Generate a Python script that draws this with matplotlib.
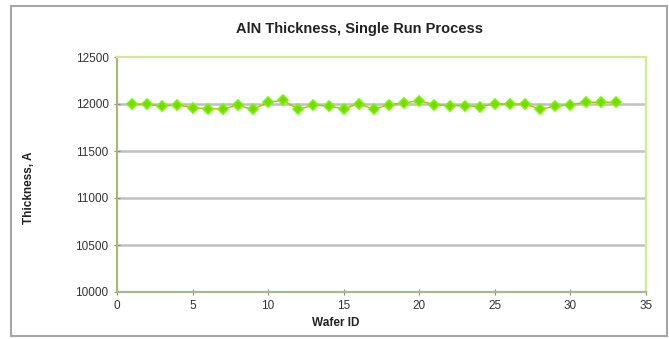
import matplotlib
matplotlib.use("Agg")
import matplotlib.pyplot as plt
from matplotlib.patches import Rectangle

# wafer thickness, single run
wafer_id = list(range(1, 34))
thickness = [
    12000, 11995, 11978, 11988, 11962, 11948, 11950, 11985, 11942, 12018,
    12040, 11942, 11988, 11978, 11950, 12000, 11945, 11993, 12010, 12035,
    11993, 11982, 11982, 11972, 12000, 12000, 12000, 11945, 11975, 11993,
    12018, 12018, 12018,
]
x_ticks = [0, 5, 10, 15, 20, 25, 30, 35]
y_ticks = [10000, 10500, 11000, 11500, 12000, 12500]

plt.rcParams["font.family"] = ["Liberation Sans", "DejaVu Sans"]

W, H = 669, 339
fig = plt.figure(figsize=(W / 100, H / 100), dpi=100)

# outer chart frame
fig.patches.append(Rectangle((11 / W, 1 - 336 / H), (667 - 11) / W, (336 - 6) / H,
                             transform=fig.transFigure, fill=False,
                             edgecolor="#a6a6a6", linewidth=1.5))

ax = fig.add_axes([117 / W, 1 - 292 / H, (646 - 117) / W, (292 - 57) / H])

ax.plot(wafer_id, thickness, color="#c8b400", linewidth=1.0, zorder=3)
ax.plot(wafer_id, thickness, linestyle="none", marker="D", markersize=5.5,
        markerfacecolor="#8ccf00", markeredgecolor="#66ff00",
        markeredgewidth=1.2, zorder=4)

ax.set_xlim(0, 35)
ax.set_ylim(10000, 12500)
ax.set_xticks(x_ticks)
ax.set_yticks(y_ticks)
ax.tick_params(axis="both", labelsize=8.5, labelcolor="#333333", color="#888888",
               direction="inout", length=4, width=0.8, pad=4)

for y in y_ticks[1:-1]:
    ax.axhline(y, color="#c0c0c0", linewidth=1.8, zorder=1)

ax.spines["left"].set_color("#a8b878")
ax.spines["bottom"].set_color("#a8b890")
ax.spines["top"].set_color("#cdee90")
ax.spines["right"].set_color("#cdee90")
for s in ax.spines.values():
    s.set_linewidth(1.6)

fig.text(359 / W, 1 - 29 / H, "AlN Thickness, Single Run Process",
         ha="center", va="center", fontsize=10.5, fontweight="bold", color="#222222")
fig.text(336 / W, 1 - 323 / H, "Wafer ID", ha="center", va="center",
         fontsize=8.5, fontweight="bold", color="#222222")
fig.text(29 / W, 1 - 188 / H, "Thickness, A", ha="center", va="center",
         rotation=90, fontsize=8.5, fontweight="bold", color="#222222")

fig.savefig("out.png", dpi=100)
